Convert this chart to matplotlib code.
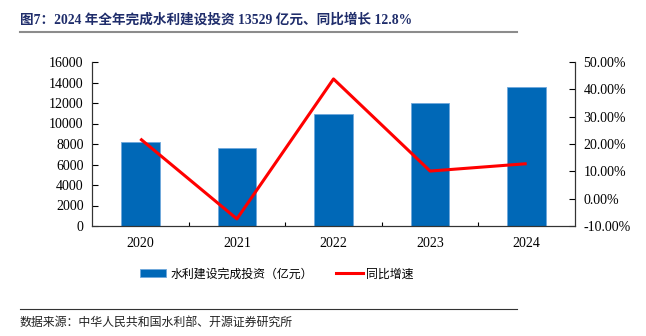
import matplotlib
matplotlib.use("Agg")
import matplotlib.pyplot as plt
from matplotlib.lines import Line2D
from matplotlib.ticker import FuncFormatter

plt.rcParams["font.family"] = ["Liberation Serif", "Noto Sans CJK SC", "DejaVu Sans"]

years = ["2020", "2021", "2022", "2023", "2024"]
invest = [8181, 7576, 10893, 11996, 13529]       # 亿元
growth = [21.9, -7.4, 43.8, 10.1, 12.8]           # %

title = "图7：2024 年全年完成水利建设投资 13529 亿元、同比增长 12.8%"
bar_label = "水利建设完成投资（亿元）"
line_label = "同比增速"
source = "数据来源：中华人民共和国水利部、开源证券研究所"

W, H = 646, 336
fig = plt.figure(figsize=(W / 100, H / 100), dpi=100)
ax = fig.add_axes([92 / W, 1 - 226 / H, (575 - 92) / W, (226 - 62) / H])
ax2 = ax.twinx()

x = range(len(years))
bars = ax.bar(x, invest, width=0.4, color="#0068B7", edgecolor="#6FA8DC", linewidth=0.6, zorder=2)
ax2.plot(x, growth, color="#FF0000", linewidth=2.2, solid_capstyle="butt", zorder=3)

ax.set_xlim(-0.5, len(years) - 0.5)
ax.set_ylim(0, 16000)
ax.set_yticks(range(0, 16001, 2000))
ax2.set_ylim(-10, 50)
ax2.set_yticks(range(-10, 51, 10))
ax2.yaxis.set_major_formatter(FuncFormatter(lambda v, p: "%.2f%%" % v))

ax.set_xticks(list(x))
ax.set_xticklabels(years)
ax.set_xticks([i + 0.5 for i in range(len(years) - 1)], minor=True)
ax.tick_params(axis="x", which="major", length=0, labelsize=10, pad=8)
ax.tick_params(axis="x", which="minor", direction="in", length=3, width=0.8)
ax.tick_params(axis="y", direction="in", length=4, labelsize=10, pad=6)
ax2.tick_params(axis="y", direction="in", length=4, labelsize=10, pad=6)

for a in (ax, ax2):
    a.spines["top"].set_visible(False)
    for s in ("left", "right", "bottom"):
        a.spines[s].set_linewidth(0.8)
        a.spines[s].set_color("#333333")

fig.text(20 / W, 1 - 20 / H, title, fontsize=9.8, fontweight="bold", color="#1F2D6B",
         va="center", ha="left", family=["Liberation Serif", "Noto Sans CJK SC"])
fig.add_artist(Line2D([20 / W, 517 / W], [1 - 31.5 / H] * 2, color="#8C8C8C", linewidth=1.5))

handles = [bars, Line2D([], [], color="#FF0000", linewidth=2.2)]
fig.legend(handles, [bar_label, line_label], ncol=2, loc="center",
           bbox_to_anchor=(277 / W, 1 - 274 / H), frameon=False,
           prop={"family": ["Noto Sans CJK SC"], "size": 8.6},
           handlelength=2.2, handleheight=0.6, handletextpad=0.3, columnspacing=2.0)

fig.add_artist(Line2D([20 / W, 517 / W], [1 - 309 / H] * 2, color="#333333", linewidth=0.8))
fig.text(20 / W, 1 - 322 / H, source, fontsize=8.6, va="center", ha="left",
         family=["Noto Sans CJK SC"], color="#222222")

fig.savefig("out.png", dpi=100)
